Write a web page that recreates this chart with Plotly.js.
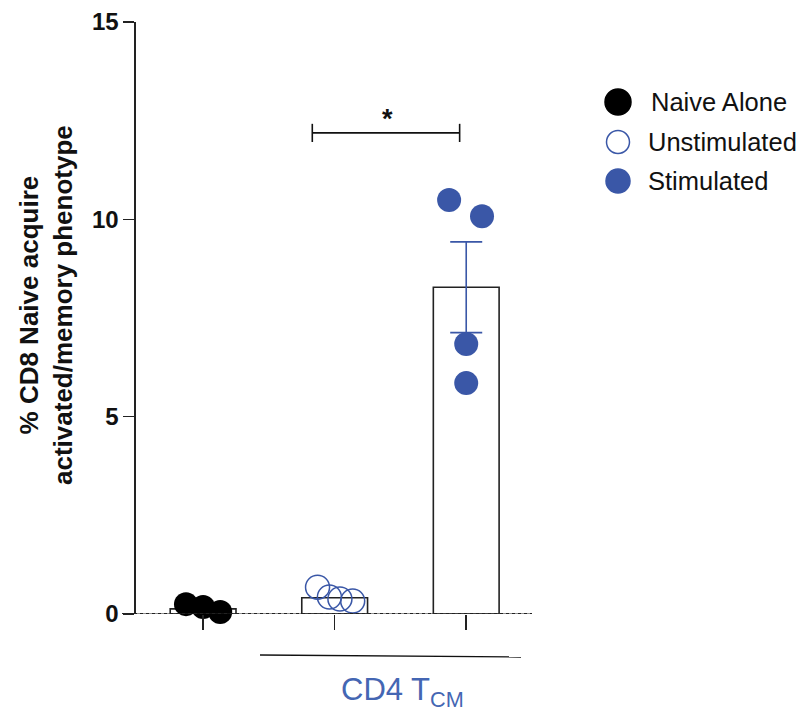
<!DOCTYPE html>
<html>
<head>
<meta charset="utf-8">
<script src="https://cdn.plot.ly/plotly-3.0.1.min.js"></script>
<style>html,body{margin:0;padding:0;background:#fff;}#chart{width:812px;height:714px;}</style>
</head>
<body>
<div id="chart"></div>
<script>
// ---- data ----
var groupNames = ["Naive Alone", "Unstimulated", "Stimulated"];
var groupPos = [0, 1, 2];
var barValues = [0.13, 0.41, 8.28];
var stimSEM = 1.15;

var naiveX = [-0.13, 0.0, 0.13];
var naiveY = [0.25, 0.18, 0.05];
var unstimX = [0.87, 0.96, 1.04, 1.137];
var unstimY = [0.68, 0.43, 0.38, 0.33];
var stimX = [1.87, 2.12, 2.0, 2.0];
var stimY = [10.49, 10.08, 6.84, 5.85];

var yTicks = [0, 5, 10, 15];
var yTitle = "% CD8 Naive acquire<br>activated/memory phenotype";
var xGroupLabel = "CD4 T<sub>CM</sub>";
var sigLabel = "*";
var sigFrom = 0.83, sigTo = 1.95, sigY = 12.19;

// ---- style ----
var BLUE = "#3a57a7";
var FONT = "Liberation Sans, Arial, sans-serif";

var traces = [
  {type: "bar", x: groupPos, y: barValues, width: 0.5,
   marker: {color: "rgba(255,255,255,0)", line: {color: "#222", width: 1.6}},
   showlegend: false, hoverinfo: "skip"},
  {type: "scatter", mode: "markers", x: [groupPos[2]], y: [barValues[2]],
   marker: {size: 1, color: "rgba(0,0,0,0)"},
   error_y: {type: "data", array: [stimSEM], visible: true, color: BLUE, thickness: 1.6, width: 16},
   showlegend: false, hoverinfo: "skip", cliponaxis: false},
  {type: "scatter", mode: "markers", name: groupNames[0], x: naiveX, y: naiveY,
   marker: {size: 24, color: "#000"}, cliponaxis: false, showlegend: false},
  {type: "scatter", mode: "markers", name: groupNames[1], x: unstimX, y: unstimY,
   marker: {size: 24, symbol: "circle-open", color: BLUE, line: {width: 1.5, color: BLUE}}, cliponaxis: false, showlegend: false},
  {type: "scatter", mode: "markers", name: groupNames[2], x: stimX, y: stimY,
   marker: {size: 24, color: BLUE}, cliponaxis: false, showlegend: false}
];

function px2x(px) { return (px - 136) / 396; }
function px2y(py) { return (614 - py) / 592; }

var legendRows = [102, 142, 181];
var shapes = [
  // dotted baseline
  {type: "line", xref: "paper", yref: "y", x0: px2x(122), x1: 1, y0: 0, y1: 0,
   line: {color: "#222", width: 1}},
  {type: "line", xref: "paper", yref: "y", x0: px2x(122), x1: 1, y0: 0, y1: 0,
   line: {color: "#222", width: 2, dash: "dot"}},
  // significance bracket
  {type: "line", xref: "x", yref: "y", x0: sigFrom, x1: sigTo, y0: sigY, y1: sigY, line: {color: "#111", width: 1.6}},
  {type: "line", xref: "x", yref: "y", x0: sigFrom, x1: sigFrom, y0: sigY - 0.23, y1: sigY + 0.23, line: {color: "#111", width: 1.6}},
  {type: "line", xref: "x", yref: "y", x0: sigTo, x1: sigTo, y0: sigY - 0.23, y1: sigY + 0.23, line: {color: "#111", width: 1.6}},
  // group underline
  {type: "line", xref: "paper", yref: "paper", x0: px2x(260), x1: px2x(521), y0: px2y(655), y1: px2y(657),
   line: {color: "#111", width: 1.4}}
];
var legendSyms = [
  {size: 26, fill: "#000", line: "#000"},
  {size: 23, fill: "rgba(0,0,0,0)", line: BLUE},
  {size: 24, fill: BLUE, line: BLUE}
];
legendSyms.forEach(function (s, i) {
  var h = s.size / 2;
  shapes.push({type: "circle", xref: "paper", yref: "paper", xsizemode: "pixel", ysizemode: "pixel",
    xanchor: px2x(618), yanchor: px2y(legendRows[i]), x0: -h, x1: h, y0: -h, y1: h,
    fillcolor: s.fill, line: {color: s.line, width: 1.5}});
});

var annotations = [
  {text: yTitle, textangle: -90, xref: "paper", yref: "paper", x: px2x(46), y: px2y(305),
   xanchor: "center", yanchor: "middle", showarrow: false,
   font: {family: FONT, size: 26, color: "#111", weight: "bold"}},
  {text: sigLabel, xref: "x", yref: "y", x: (sigFrom + sigTo) / 2 + 0.01, y: sigY - 0.08,
   xanchor: "center", yanchor: "bottom", showarrow: false,
   font: {family: FONT, size: 27, color: "#111", weight: "bold"}},
  {text: xGroupLabel, xref: "paper", yref: "paper", x: px2x(402), y: px2y(692),
   xanchor: "center", yanchor: "middle", showarrow: false,
   font: {family: FONT, size: 31, color: "#4466b3"}}
];
groupNames.forEach(function (g, i) {
  annotations.push({text: g, xref: "paper", yref: "paper", x: px2x(i === 0 ? 649 : 646), y: px2y(legendRows[i]),
    xanchor: "left", yanchor: "middle", showarrow: false,
    font: {family: FONT, size: 25.5, color: "#111"}});
});

var layout = {
  width: 812, height: 714,
  margin: {l: 136, r: 280, t: 22, b: 100, pad: 0},
  paper_bgcolor: "#fff", plot_bgcolor: "#fff",
  showlegend: false,
  xaxis: {range: [-0.51, 2.5], tickvals: groupPos, showticklabels: false, ticks: "outside",
    ticklen: 15, tickwidth: 1.5, tickcolor: "#222", showline: false, showgrid: false, zeroline: false, fixedrange: true},
  yaxis: {range: [0, 15], tickvals: yTicks, ticks: "outside", ticklen: 11, tickwidth: 1.5, tickcolor: "#222",
    showline: true, linecolor: "#222", linewidth: 1.6, showgrid: false, zeroline: false,
    tickfont: {family: FONT, size: 24, color: "#111", weight: "bold"}, fixedrange: true},
  shapes: shapes,
  annotations: annotations
};

Plotly.newPlot("chart", traces, layout, {displayModeBar: false, staticPlot: true});
</script>
</body>
</html>
